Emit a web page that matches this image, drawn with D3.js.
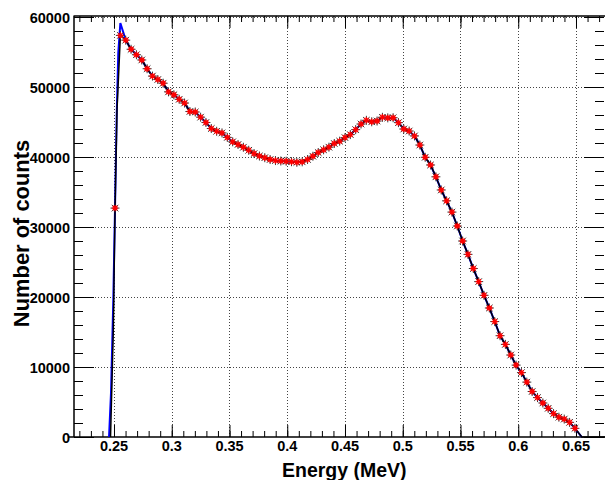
<!DOCTYPE html>
<meta charset="utf-8">
<style>
body { margin: 0; background: #fff; }
svg { font-family: "Liberation Sans", Arial, sans-serif; font-weight: bold; }
.grid line { stroke: #444; stroke-width: 1; stroke-dasharray: 1,2; }
.tick-label { font-size: 14.5px; fill: #000; }
.title { font-size: 19.5px; fill: #000; }
</style>
<svg width="605" height="480"></svg>
<script src="https://d3js.org/d3.v7.min.js"></script>
<script>
// histogram bins (MeV)
var binStart = 0.2509,
    binWidth = 0.00463;

// measured counts per bin
var counts = [32700, 57370, 56690, 55390, 54610, 53860, 52610, 51560, 51070, 50540,
  49310, 48890, 48240, 47710, 46500, 46430, 45690, 44930, 44070, 43670,
  43440, 42800, 42170, 41790, 41390, 40960, 40490, 40140, 39900, 39640,
  39490, 39430, 39400, 39330, 39240, 39310, 39640, 40110, 40640, 41030,
  41400, 41930, 42260, 42770, 43200, 43910, 44710, 45240, 45030, 45140,
  45670, 45590, 45610, 44910, 44000, 43710, 43010, 41710, 39960, 38860,
  37170, 35290, 33740, 32130, 30140, 28000, 26090, 24070, 22200, 20240,
  18430, 16490, 14470, 13230, 11710, 10270, 9200, 7840, 6500, 5630,
  4860, 4100, 3340, 2830, 2560, 2090, 1240];

// leading / trailing edges of the two curves
var blueEdgeE = [0.2457, 0.2474, 0.2494, 0.2509, 0.2523, 0.2537, 0.2555];
var blueEdgeC = [0, 6290, 19570, 32860, 45710, 54860, 59140];
var blackEdgeE = [0.2470, 0.2494];
var blackEdgeC = [0, 15290];
var blackMidE = 0.2526, blackMidC = 46710;
var endE = 0.6550;

var xTicks = [0.25, 0.3, 0.35, 0.4, 0.45, 0.5, 0.55, 0.6, 0.65];
var yTicks = [0, 10000, 20000, 30000, 40000, 50000, 60000];

var svg = d3.select("svg"),
    x0 = 74, x1 = 605, y0 = 437, y1 = 16;

var x = d3.scaleLinear().domain([0.21537, 0.67511]).range([x0, x1]);
var y = d3.scaleLinear().domain([0, 60143]).range([y0, y1]);

var points = counts.map(function(c, i) { return [binStart + i * binWidth, c]; });

// grid
var grid = svg.append("g").attr("class", "grid");
grid.selectAll(".gx").data(xTicks).enter().append("line")
    .attr("x1", function(d) { return Math.round(x(d)) + 0.5; })
    .attr("x2", function(d) { return Math.round(x(d)) + 0.5; })
    .attr("y1", y1).attr("y2", y0);
grid.selectAll(".gy").data(yTicks.slice(1)).enter().append("line")
    .attr("x1", x0).attr("x2", x1)
    .attr("y1", function(d) { return Math.round(y(d)) + 0.5; })
    .attr("y2", function(d) { return Math.round(y(d)) + 0.5; });

// axes (ROOT style: ticks inside)
var xMinor = d3.range(0.22, 0.6751, 0.01);
var yMinor = d3.range(0, 60001, 2000);

function noDomain(g) { g.select(".domain").remove(); }

svg.append("g").attr("transform", "translate(0," + y0 + ")")
    .call(d3.axisTop(x).tickValues(xMinor).tickSize(6).tickFormat("")).call(noDomain);
svg.append("g").attr("transform", "translate(0," + y0 + ")")
    .call(d3.axisTop(x).tickValues(xTicks).tickSize(12).tickFormat("")).call(noDomain);
svg.append("g").attr("transform", "translate(0," + y1 + ")")
    .call(d3.axisBottom(x).tickValues(xMinor).tickSize(6).tickFormat("")).call(noDomain);
svg.append("g").attr("transform", "translate(0," + y1 + ")")
    .call(d3.axisBottom(x).tickValues(xTicks).tickSize(12).tickFormat("")).call(noDomain);

svg.append("g").attr("transform", "translate(" + x0 + ",0)")
    .call(d3.axisRight(y).tickValues(yMinor).tickSize(9).tickFormat("")).call(noDomain);
svg.append("g").attr("transform", "translate(" + x0 + ",0)")
    .call(d3.axisRight(y).tickValues(yTicks).tickSize(20).tickFormat("")).call(noDomain);
svg.append("g").attr("transform", "translate(" + (x1 - 1) + ",0)")
    .call(d3.axisLeft(y).tickValues(yMinor).tickSize(9).tickFormat("")).call(noDomain);
svg.append("g").attr("transform", "translate(" + (x1 - 1) + ",0)")
    .call(d3.axisLeft(y).tickValues(yTicks).tickSize(20).tickFormat("")).call(noDomain);

// frame
svg.append("path")
    .attr("d", "M" + x0 + "," + y1 + "H" + x1 + "M" + x0 + "," + (y1 - 0.5) + "V" + (y0 + 0.5) + "M" + (x0 - 6) + "," + y0 + "H" + x1)
    .attr("fill", "none").attr("stroke", "#000").attr("stroke-width", 1.5);

// tick labels
svg.append("g").selectAll("text").data(xTicks).enter().append("text")
    .attr("class", "tick-label")
    .attr("x", function(d) { return x(d); })
    .attr("y", 451)
    .attr("text-anchor", "middle")
    .text(function(d) { return String(d); });
svg.append("g").selectAll("text").data(yTicks).enter().append("text")
    .attr("class", "tick-label")
    .attr("x", 70)
    .attr("y", function(d) { return y(d) + 5.5; })
    .attr("text-anchor", "end")
    .text(function(d) { return d; });

// curves
var line = d3.line()
    .x(function(d) { return x(d[0]); })
    .y(function(d) { return y(d[1]); });

var bluePts = blueEdgeE.map(function(e, i) { return [e, blueEdgeC[i]]; })
    .concat(points.slice(2)).concat([[endE, 0]]);
var blackPts = blackEdgeE.map(function(e, i) { return [e, blackEdgeC[i]]; })
    .concat([points[0], [blackMidE, blackMidC]]).concat(points.slice(1)).concat([[endE, 0], [0.6751, 0]]);

svg.append("path").datum(bluePts)
    .attr("d", line).attr("fill", "none").attr("stroke", "#0000ff").attr("stroke-width", 2);
svg.append("path").datum(blackPts)
    .attr("d", line).attr("fill", "none").attr("stroke", "#000").attr("stroke-width", 1.5);

// markers
var bigStar = "M-4.5,0H4.5M0,-4.5V4.5M-3.3,-3.3L3.3,3.3M-3.3,3.3L3.3,-3.3";
var star = "M-3.2,0H3.2M0,-3.2V3.2M-2.3,-2.3L2.3,2.3M-2.3,2.3L2.3,-2.3";
svg.append("g").selectAll("path").data(points).enter().append("path")
    .attr("transform", function(d) { return "translate(" + x(d[0]) + "," + y(d[1]) + ")"; })
    .attr("d", bigStar).attr("stroke", "#222").attr("stroke-width", 0.9);
svg.append("g").selectAll("path").data(points).enter().append("path")
    .attr("transform", function(d) { return "translate(" + x(d[0]) + "," + y(d[1]) + ")"; })
    .attr("d", star).attr("stroke", "#ff0000").attr("stroke-width", 1.3);

// titles
svg.append("text").attr("class", "title")
    .attr("x", 282).attr("y", 477)
    .text("Energy (MeV)");
svg.append("text").attr("class", "title")
    .attr("transform", "translate(28.5,233.5) rotate(-90)")
    .attr("text-anchor", "middle")
    .style("font-size", "21.9px")
    .text("Number of counts");
</script>
